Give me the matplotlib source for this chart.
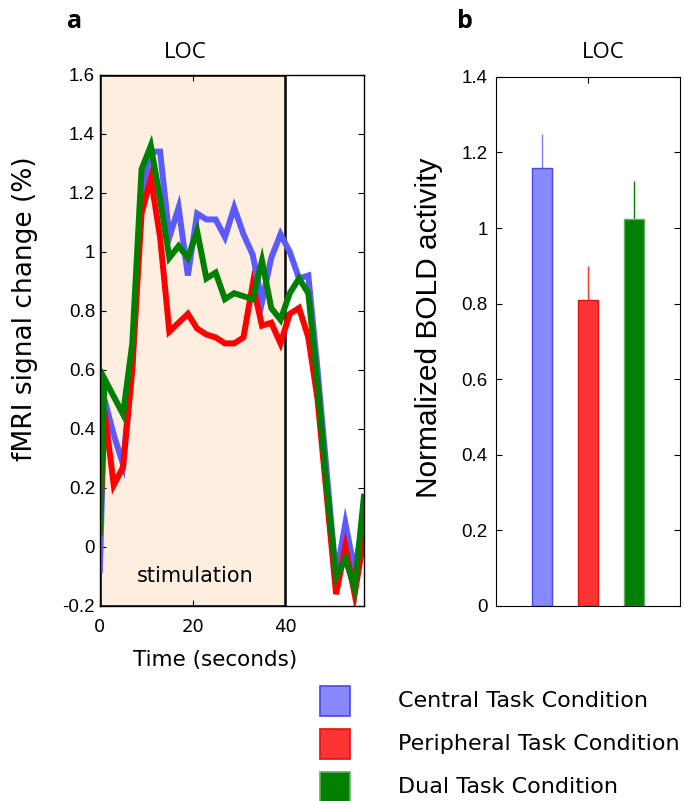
import numpy as np
import matplotlib.pyplot as plt
from matplotlib.patches import Rectangle

# time course data (LOC), seconds
tiempo = [0, 1, 3, 5, 7, 9, 11, 13, 15, 17, 19, 21, 23, 25, 27, 29,
          31, 33, 35, 37, 39, 41, 43, 45, 47, 49, 51, 53, 55, 57]
central = [-0.08, 0.50, 0.38, 0.28, 0.62, 1.20, 1.34, 1.34, 1.05, 1.15, 0.92, 1.13, 1.11, 1.11, 1.05, 1.15,
           1.06, 0.99, 0.83, 0.98, 1.06, 1.00, 0.91, 0.92, 0.60, 0.25, -0.10, 0.08, -0.08, 0.10]
periferica = [0.05, 0.46, 0.21, 0.27, 0.60, 1.13, 1.25, 1.05, 0.73, 0.76, 0.79, 0.74, 0.72, 0.71, 0.69, 0.69,
              0.71, 0.89, 0.75, 0.76, 0.69, 0.79, 0.81, 0.71, 0.50, 0.17, -0.16, 0.00, -0.16, 0.03]
dupla = [0.05, 0.57, 0.51, 0.45, 0.69, 1.28, 1.36, 1.18, 0.98, 1.02, 0.98, 1.07, 0.91, 0.93, 0.84, 0.86,
         0.85, 0.84, 0.97, 0.81, 0.77, 0.86, 0.91, 0.86, 0.55, 0.20, -0.10, -0.04, -0.14, 0.17]

# normalized BOLD bars
condicoes = ['Central Task Condition', 'Peripheral Task Condition', 'Dual Task Condition']
bold = [1.16, 0.81, 1.025]
erro = [0.09, 0.09, 0.10]

cor_linha = ['#5a5aff', '#ff0000', '#008000']
cor_barra = ['#8888ff', '#ff3333', '#008000']
cor_borda = ['#4848e8', '#e01010', '#60b060']
cor_erro = ['#8080ff', '#ff3030', '#008000']

fig = plt.figure(figsize=(6.84, 8.01), dpi=100)

# ---- painel a
ax1 = fig.add_axes([0.146, 0.2435, 0.386, 0.663])
ax1.add_patch(Rectangle((0, -0.2), 40, 1.8, facecolor='#fdeee0', edgecolor='black', lw=1.8, zorder=0))
for serie, c in zip([central, periferica, dupla], cor_linha):
    ax1.plot(tiempo, serie, color=c, lw=4.3, solid_joinstyle='miter', zorder=2)
ax1.set_xlim(0, 57)
ax1.set_ylim(-0.2, 1.6)
ax1.set_xticks([0, 20, 40])
ax1.set_yticks(np.arange(-0.2, 1.61, 0.2))
ax1.set_yticklabels(['-0.2', '0', '0.2', '0.4', '0.6', '0.8', '1', '1.2', '1.4', '1.6'],
                    family='Liberation Sans', fontsize=13.5)
ax1.tick_params(axis='x', labelsize=13, pad=9)
ax1.tick_params(direction='in', top=True, right=True, length=4)
ax1.set_xlabel('Time (seconds)', fontsize=15.5)
ax1.xaxis.set_label_coords(0.436, -0.083)
ax1.set_ylabel('fMRI signal change (%)', fontsize=19)
ax1.yaxis.set_label_coords(-0.236, 0.559)
ax1.text(20.5, -0.10, 'stimulation', ha='center', va='center', fontsize=15)
for s in ax1.spines.values():
    s.set_linewidth(1.0)

# ---- painel b
ax2 = fig.add_axes([0.725, 0.2435, 0.269, 0.6605])
pos = [1, 2, 3]
for i in range(3):
    ax2.bar(pos[i], bold[i], width=0.43, color=cor_barra[i], edgecolor=cor_borda[i], lw=1, zorder=2)
    ax2.errorbar(pos[i], bold[i], yerr=[[0], [erro[i]]], color=cor_erro[i], lw=1, capsize=0, zorder=1)
ax2.set_xlim(0, 4)
ax2.set_ylim(0, 1.4)
ax2.set_xticks([2])
ax2.set_xticklabels([''])
ax2.set_yticks(np.arange(0, 1.41, 0.2))
ax2.set_yticklabels(['0', '0.2', '0.4', '0.6', '0.8', '1', '1.2', '1.4'], family='Liberation Sans', fontsize=13.5)
ax2.tick_params(direction='in', top=True, right=True, length=4, bottom=False, pad=6)
ax2.set_ylabel('Normalized BOLD activity', fontsize=21.5, family='Liberation Sans')
ax2.yaxis.set_label_coords(-0.29, 0.525)

# titulos
fig.text(75 / 684, 1 - 22 / 801, 'a', fontsize=18, fontweight='bold', family='Open Sans', ha='center', va='center')
fig.text(465 / 684, 1 - 22 / 801, 'b', fontsize=18, fontweight='bold', family='Open Sans', ha='center', va='center')
fig.text(185 / 684, 1 - 52 / 801, 'LOC', fontsize=16, family='Open Sans', ha='center', va='center')
fig.text(603 / 684, 1 - 52 / 801, 'LOC', fontsize=16, family='Open Sans', ha='center', va='center')

# legenda
for i, nome in enumerate(condicoes):
    yc = 1 - (701 + 43 * i) / 801
    fig.patches.append(Rectangle((320 / 684, yc - 15 / 801), 30 / 684, 30 / 801,
                                 transform=fig.transFigure, facecolor=cor_barra[i],
                                 edgecolor=cor_borda[i], lw=1.2))
    fig.text(398 / 684, yc, nome, fontsize=16, ha='left', va='center')

plt.savefig('out.png', dpi=100)
